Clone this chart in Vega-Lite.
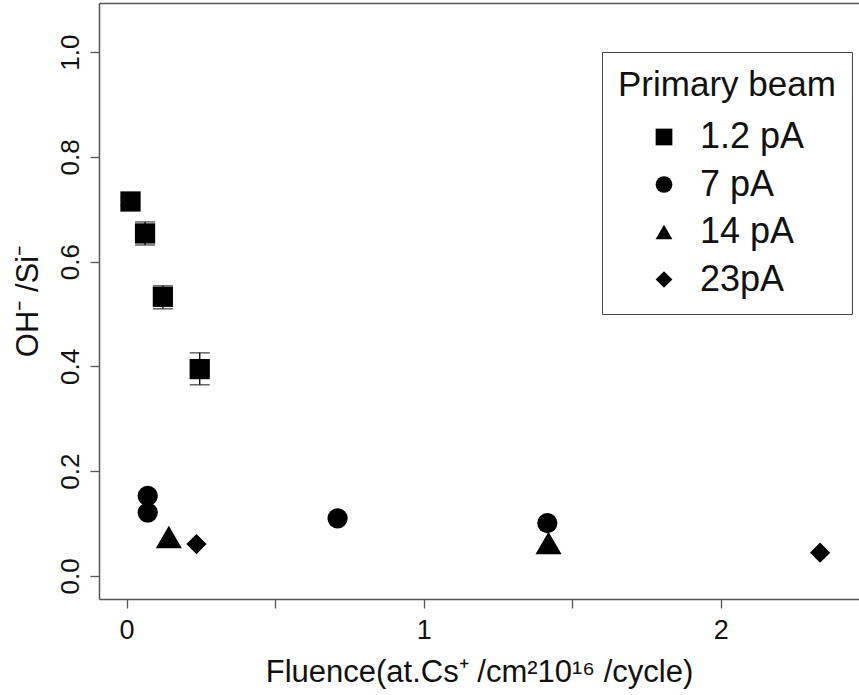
{
  "$schema": "https://vega.github.io/schema/vega-lite/v6.json",
  "width": 760,
  "height": 596,
  "autosize": {"type": "none"},
  "padding": {"left": 99, "top": 3, "right": 0, "bottom": 96},
  "background": "white",
  "config": {
    "view": {"stroke": null},
    "font": "Liberation Sans",
    "axis": {
      "grid": false,
      "domainColor": "#555",
      "domainWidth": 1.5,
      "tickColor": "#555",
      "tickWidth": 1.3,
      "labelColor": "#111",
      "titleColor": "#111",
      "titleFontWeight": "normal"
    }
  },
  "data": {
    "values": [
      {"series": "1.2 pA", "x": 0.013, "y": 0.715, "lo": 0.708, "hi": 0.722},
      {"series": "1.2 pA", "x": 0.062, "y": 0.654, "lo": 0.632, "hi": 0.676},
      {"series": "1.2 pA", "x": 0.122, "y": 0.533, "lo": 0.510, "hi": 0.554},
      {"series": "1.2 pA", "x": 0.246, "y": 0.395, "lo": 0.365, "hi": 0.426},
      {"series": "7 pA", "x": 0.071, "y": 0.153, "lo": null, "hi": null},
      {"series": "7 pA", "x": 0.071, "y": 0.121, "lo": null, "hi": null},
      {"series": "7 pA", "x": 0.710, "y": 0.110, "lo": null, "hi": null},
      {"series": "7 pA", "x": 1.416, "y": 0.101, "lo": null, "hi": null},
      {"series": "14 pA", "x": 0.142, "y": 0.0745, "lo": null, "hi": null},
      {"series": "14 pA", "x": 1.420, "y": 0.063, "lo": null, "hi": null},
      {"series": "23pA", "x": 0.235, "y": 0.061, "lo": null, "hi": null},
      {"series": "23pA", "x": 2.334, "y": 0.0445, "lo": null, "hi": null}
    ]
  },
  "layer": [
    {
      "transform": [{"filter": "datum.lo != null"}],
      "mark": {
        "type": "errorbar",
        "ticks": {"size": 20, "thickness": 1.4, "color": "#111"},
        "rule": {"strokeWidth": 1.4, "color": "#111"}
      },
      "encoding": {
        "x": {
          "field": "x", "type": "quantitative",
          "scale": {"domain": [-0.093, 2.465], "nice": false, "zero": false},
          "axis": {"orient": "top", "labels": false, "ticks": false, "title": null, "domain": true}
        },
        "y": {
          "field": "lo", "type": "quantitative",
          "scale": {"domain": [-0.044, 1.094], "nice": false, "zero": false},
          "axis": {
            "title": "OH⁻  /Si⁻",
            "values": [0, 0.2, 0.4, 0.6, 0.8, 1.0],
            "format": ".1f",
            "labelAngle": -90,
            "labelAlign": "center",
            "labelBaseline": "bottom",
            "tickSize": 9,
            "labelPadding": 7,
            "labelFontSize": 26,
            "titleFontSize": 31,
            "titlePadding": 13
          }
        },
        "y2": {"field": "hi"}
      }
    },
    {
      "mark": {"type": "point", "filled": true, "opacity": 1, "color": "black", "size": 410},
      "encoding": {
        "x": {
          "field": "x", "type": "quantitative",
          "scale": {"domain": [-0.093, 2.465], "nice": false, "zero": false},
          "axis": {
            "orient": "bottom",
            "title": "Fluence(at.Cs⁺ /cm²10¹⁶ /cycle)",
            "values": [0, 0.5, 1, 1.5, 2],
            "labelExpr": "datum.value % 1 == 0 ? format(datum.value, 'd') : ''",
            "tickSize": 9,
            "labelPadding": 9,
            "labelFontSize": 27,
            "titleFontSize": 31,
            "titlePadding": 14
          }
        },
        "y": {
          "field": "y", "type": "quantitative",
          "scale": {"domain": [-0.044, 1.094], "nice": false, "zero": false},
          "axis": {
            "title": "OH⁻  /Si⁻",
            "values": [0, 0.2, 0.4, 0.6, 0.8, 1.0],
            "format": ".1f",
            "labelAngle": -90,
            "labelAlign": "center",
            "labelBaseline": "bottom",
            "tickSize": 9,
            "labelPadding": 7,
            "labelFontSize": 26,
            "titleFontSize": 31,
            "titlePadding": 13
          }
        },
        "shape": {
          "field": "series", "type": "nominal",
          "scale": {"domain": ["1.2 pA", "7 pA", "14 pA", "23pA"], "range": ["square", "circle", "triangle-up", "diamond"]},
          "legend": {
            "orient": "none",
            "legendX": 503,
            "legendY": 49,
            "title": "Primary beam",
            "titleFontSize": 35,
            "titleLimit": 400,
            "titleFontWeight": "normal",
            "titleColor": "#111",
            "titlePadding": 16,
            "labelFontSize": 36,
            "labelColor": "#111",
            "labelLimit": 300,
            "labelOffset": 18,
            "symbolOffset": 28,
            "symbolSize": 280,
            "symbolFillColor": "black",
            "symbolStrokeColor": "black",
            "rowPadding": 11.5,
            "padding": 16,
            "strokeColor": "#444",
            "fillColor": "white"
          }
        }
      }
    },
    {
      "transform": [{"filter": "datum.series == '14 pA'"}],
      "mark": {"type": "point", "filled": true, "opacity": 1, "color": "black", "shape": "triangle-up", "size": 680},
      "encoding": {
        "x": {"field": "x", "type": "quantitative", "axis": null},
        "y": {
          "field": "y", "type": "quantitative",
          "axis": {
            "title": "OH⁻  /Si⁻",
            "values": [0, 0.2, 0.4, 0.6, 0.8, 1.0],
            "format": ".1f",
            "labelAngle": -90,
            "labelAlign": "center",
            "labelBaseline": "bottom",
            "tickSize": 9,
            "labelPadding": 7,
            "labelFontSize": 26,
            "titleFontSize": 31,
            "titlePadding": 13
          }
        }
      }
    }
  ],
  "resolve": {"axis": {"x": "independent"}}
}
